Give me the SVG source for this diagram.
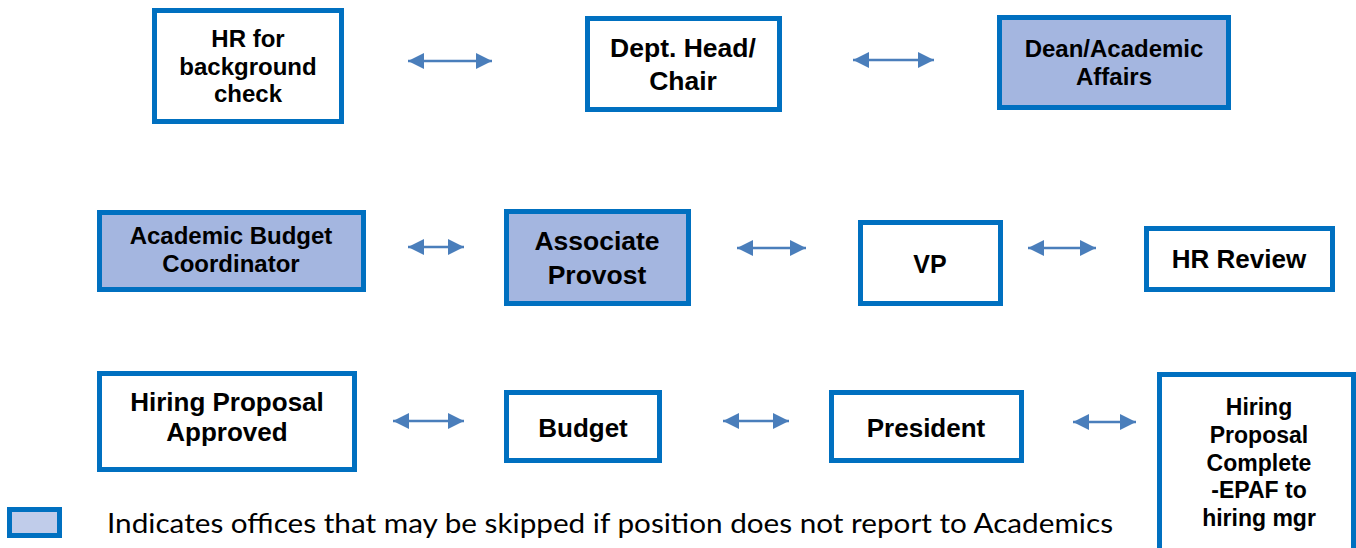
<svg xmlns="http://www.w3.org/2000/svg" width="1356" height="548" viewBox="0 0 1356 548">
<style>
.box{fill:#ffffff;stroke:#0070C0;stroke-width:5}
.skip{fill:#A4B6E0;stroke:#0070C0;stroke-width:5}
.t{font-family:"Liberation Sans",Arial,sans-serif;font-weight:bold;fill:#000;text-anchor:middle}
.conn{stroke:#4A7EBB;stroke-width:2.5;fill:none;marker-start:url(#ah);marker-end:url(#ah)}
.leg{font-family:Lato,"Open Sans",sans-serif;fill:#000}
</style>
<defs>
<marker id="ah" viewBox="0 0 16 16" refX="16" refY="8" markerWidth="16" markerHeight="16" markerUnits="userSpaceOnUse" orient="auto-start-reverse">
<path d="M0,0 L16,8 L0,16 z" fill="#4A7EBB"/>
</marker>
</defs>
<rect width="1356" height="548" fill="#ffffff"/>
<g id="connectors">
<line class="conn" x1="408" y1="61" x2="492" y2="61"/>
<line class="conn" x1="853" y1="60" x2="934" y2="60"/>
<line class="conn" x1="408" y1="247" x2="464" y2="247"/>
<line class="conn" x1="737" y1="248" x2="806" y2="248"/>
<line class="conn" x1="1028" y1="248" x2="1096" y2="248"/>
<line class="conn" x1="393" y1="421" x2="464" y2="421"/>
<line class="conn" x1="723" y1="421" x2="789" y2="421"/>
<line class="conn" x1="1073" y1="422" x2="1136" y2="422"/>
</g>
<g id="hr-background">
<rect class="box" x="154.5" y="10.5" width="187" height="111"/>
<text class="t" font-size="24" x="248" y="47">HR for</text>
<text class="t" font-size="24" x="248" y="74.5">background</text>
<text class="t" font-size="24" x="248" y="102">check</text>
</g>
<g id="dept-head">
<rect class="box" x="587.5" y="18.5" width="192" height="91"/>
<text class="t" font-size="26.5" x="683" y="57">Dept. Head/</text>
<text class="t" font-size="26.5" x="683" y="90">Chair</text>
</g>
<g id="dean">
<rect class="skip" x="999.5" y="17.5" width="229" height="90"/>
<text class="t" font-size="24" x="1114" y="57">Dean/Academic</text>
<text class="t" font-size="24" x="1114" y="85">Affairs</text>
</g>
<g id="budget-coordinator">
<rect class="skip" x="99.5" y="212.5" width="264" height="77"/>
<text class="t" font-size="24" x="231" y="244">Academic Budget</text>
<text class="t" font-size="24" x="231" y="272">Coordinator</text>
</g>
<g id="associate-provost">
<rect class="skip" x="506.5" y="211.5" width="182" height="92"/>
<text class="t" font-size="26.5" x="597" y="250">Associate</text>
<text class="t" font-size="26.5" x="597" y="284">Provost</text>
</g>
<g id="vp">
<rect class="box" x="860.5" y="222.5" width="140" height="81"/>
<text class="t" font-size="25" x="930" y="273">VP</text>
</g>
<g id="hr-review">
<rect class="box" x="1146.5" y="228.5" width="186" height="61"/>
<text class="t" font-size="26" x="1239" y="268">HR Review</text>
</g>
<g id="proposal-approved">
<rect class="box" x="99.5" y="373.5" width="255" height="96"/>
<text class="t" font-size="26" x="227" y="411">Hiring Proposal</text>
<text class="t" font-size="26" x="227" y="441">Approved</text>
</g>
<g id="budget">
<rect class="box" x="506.5" y="392.5" width="153" height="68"/>
<text class="t" font-size="26" x="583" y="437">Budget</text>
</g>
<g id="president">
<rect class="box" x="831.5" y="392.5" width="190" height="68"/>
<text class="t" font-size="26" x="926" y="437">President</text>
</g>
<g id="proposal-complete">
<rect class="box" x="1159.5" y="374.5" width="194" height="190"/>
<text class="t" font-size="23" x="1259" y="415">Hiring</text>
<text class="t" font-size="23" x="1259" y="443">Proposal</text>
<text class="t" font-size="23" x="1259" y="471">Complete</text>
<text class="t" font-size="23" x="1259" y="498">-EPAF to</text>
<text class="t" font-size="23" x="1259" y="526">hiring mgr</text>
</g>
<g id="legend">
<rect x="9.5" y="509.5" width="50" height="26" fill="#C0CCEA" stroke="#0070C0" stroke-width="5"/>
<text class="leg" font-size="27" x="107" y="533" textLength="1006" lengthAdjust="spacingAndGlyphs">Indicates offices that may be skipped if position does not report to Academics</text>
</g>
</svg>
